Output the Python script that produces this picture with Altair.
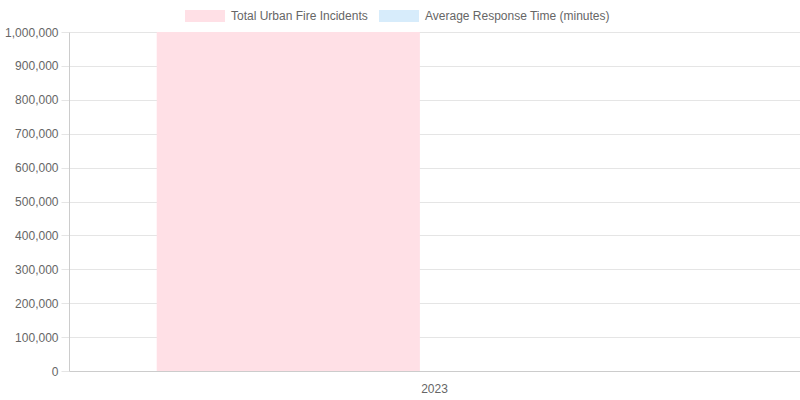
import altair as alt
import pandas as pd

years = ["2023"]
series_names = ["Total Urban Fire Incidents", "Average Response Time (minutes)"]
incidents = [1000000]
response_time = [8]
series_colors = ["#ffe0e6", "#d7ecfb"]
y_ticks = [0, 100000, 200000, 300000, 400000, 500000, 600000, 700000, 800000, 900000, 1000000]

rows = []
for i, yr in enumerate(years):
    rows.append({"year": yr, "series": series_names[0], "value": incidents[i]})
    rows.append({"year": yr, "series": series_names[1], "value": response_time[i]})
df = pd.DataFrame(rows)

FONT = "Liberation Sans, Arial, sans-serif"

chart = alt.Chart(df).mark_bar(strokeWidth=0).encode(
    x=alt.X("year:N", title=None,
            scale=alt.Scale(paddingInner=0, paddingOuter=0),
            axis=alt.Axis(labelAngle=0, ticks=False, grid=False, labelPadding=12,
                          domainColor="#cccccc", labelColor="#666666",
                          labelFontSize=12, labelFont=FONT)),
    xOffset=alt.XOffset("series:N", sort=series_names,
                        scale=alt.Scale(paddingInner=0.1, paddingOuter=0.3)),
    y=alt.Y("value:Q", title=None,
            scale=alt.Scale(domain=[0, 1000000], nice=False),
            axis=alt.Axis(values=y_ticks, format=",d", tickSize=8, labelPadding=3,
                          tickColor="#e5e5e5", gridColor="#e5e5e5",
                          domainColor="#cccccc", labelColor="#666666",
                          labelFontSize=12, labelFont=FONT)),
    color=alt.Color("series:N", sort=series_names,
                    scale=alt.Scale(domain=series_names, range=series_colors),
                    legend=alt.Legend(orient="none", legendX=116, legendY=-36,
                                      direction="horizontal", title=None,
                                      symbolType="M-1,-0.3H1V0.3H-1Z",
                                      symbolSize=1600, symbolStrokeWidth=0,
                                      symbolOpacity=1,
                                      labelFontSize=12, labelColor="#666666",
                                      labelFont=FONT, labelLimit=400,
                                      labelOffset=6, columnPadding=11)),
).properties(
    width=731, height=339,
    autosize=alt.AutoSizeParams(type="none"),
    padding={"left": 69, "top": 32, "right": 0, "bottom": 29},
    background="white",
).configure_view(stroke=None)

chart.save("out.html", embed_options={"renderer": "svg", "actions": False})
